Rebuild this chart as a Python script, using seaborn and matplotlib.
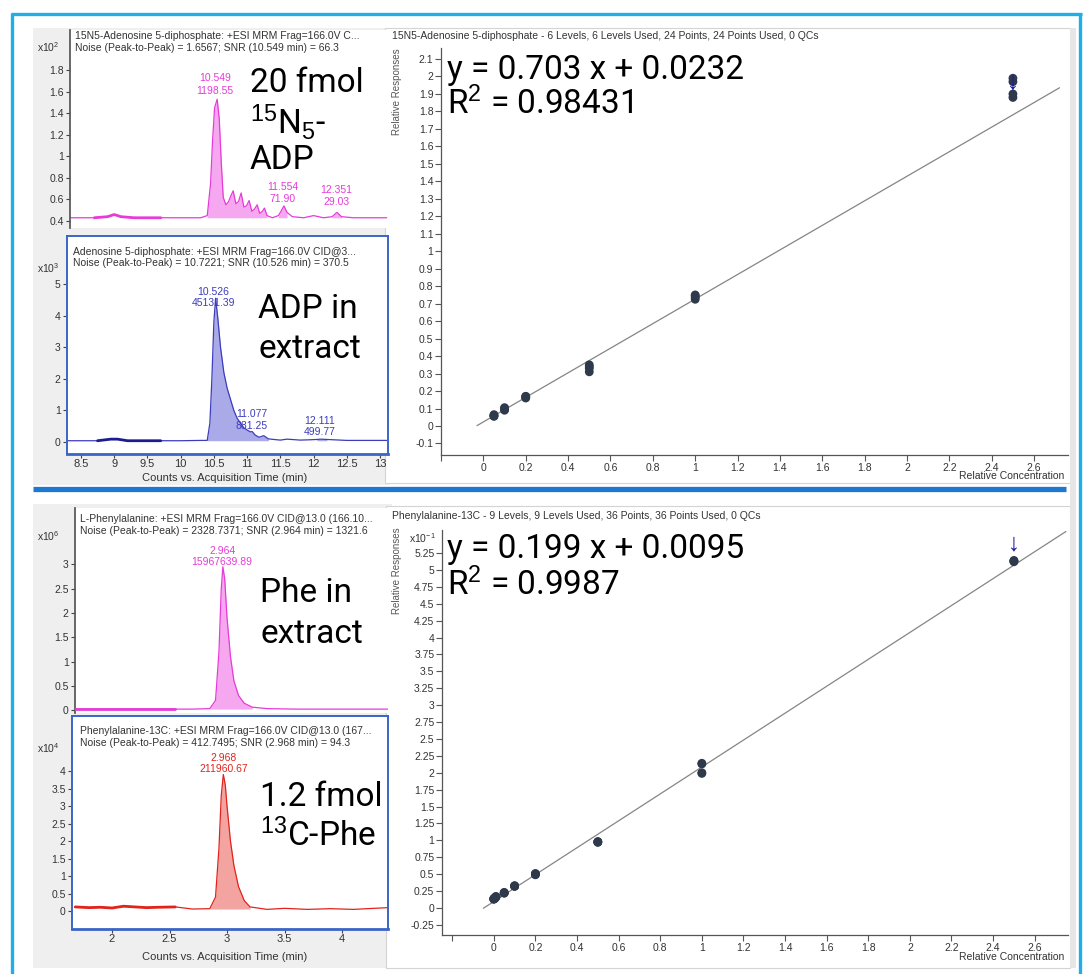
import numpy as np
import matplotlib
matplotlib.use("Agg")
import matplotlib.pyplot as plt
from matplotlib.patches import Rectangle
from matplotlib.lines import Line2D
from matplotlib.ticker import FuncFormatter
import seaborn as sns

# ---------------- data ----------------
# 15N5-ADP chromatogram (x10^2 counts)
adp15_t = [8.3, 8.7, 8.9, 9.0, 9.1, 9.3, 9.7, 10.0, 10.3, 10.40, 10.45, 10.48, 10.51, 10.549,
           10.58, 10.61, 10.64, 10.68, 10.72, 10.76, 10.79, 10.83, 10.87, 10.91, 10.95, 10.99,
           11.03, 11.07, 11.11, 11.15, 11.19, 11.23, 11.26, 11.30, 11.38, 11.47, 11.51, 11.554,
           11.60, 11.68, 11.85, 12.0, 12.15, 12.28, 12.351, 12.42, 12.6, 12.8, 13.1]
adp15_y = [0.43, 0.43, 0.44, 0.46, 0.44, 0.43, 0.43, 0.43, 0.43, 0.45, 0.75, 1.15, 1.45, 1.53,
           1.35, 0.95, 0.62, 0.55, 0.58, 0.64, 0.68, 0.56, 0.58, 0.66, 0.53, 0.54,
           0.59, 0.49, 0.51, 0.55, 0.47, 0.49, 0.52, 0.45, 0.43, 0.45, 0.49, 0.54,
           0.48, 0.44, 0.43, 0.45, 0.43, 0.44, 0.48, 0.44, 0.43, 0.43, 0.43]
# ADP in extract chromatogram (x10^3 counts)
adp_t = [8.3, 8.75, 8.95, 9.05, 9.2, 9.7, 10.0, 10.3, 10.40, 10.44, 10.47, 10.50, 10.526, 10.56,
         10.60, 10.65, 10.70, 10.75, 10.80, 10.85, 10.90, 10.95, 11.0, 11.05, 11.077, 11.12,
         11.18, 11.25, 11.32, 11.40, 11.5, 11.6, 11.8, 11.95, 12.05, 12.111, 12.2, 12.3, 12.5,
         12.8, 13.1]
adp_y = [0.04, 0.04, 0.09, 0.09, 0.04, 0.04, 0.04, 0.05, 0.05, 0.6, 2.0, 3.8, 4.55, 3.9,
         3.0, 2.2, 1.7, 1.35, 1.0, 0.75, 0.6, 0.45, 0.38, 0.32, 0.33, 0.22,
         0.15, 0.20, 0.10, 0.08, 0.06, 0.09, 0.06, 0.07, 0.08, 0.09, 0.08, 0.07, 0.05,
         0.05, 0.05]
# Phe in extract chromatogram (x10^6 counts)
phe_t = [1.68, 2.0, 2.3, 2.55, 2.7, 2.85, 2.90, 2.93, 2.95, 2.964, 2.98, 3.00, 3.03, 3.06,
         3.10, 3.15, 3.22, 3.35, 3.6, 3.9, 4.2, 4.4]
phe_y = [0.02, 0.02, 0.02, 0.02, 0.02, 0.03, 0.2, 1.2, 2.5, 2.95, 2.7, 1.9, 1.1, 0.6,
         0.3, 0.14, 0.06, 0.03, 0.02, 0.02, 0.02, 0.02]
# 13C-Phe chromatogram (x10^4 counts)
phe13_t = [1.68, 1.8, 1.9, 2.0, 2.1, 2.2, 2.3, 2.4, 2.55, 2.7, 2.85, 2.90, 2.93, 2.95, 2.968,
           2.985, 3.00, 3.03, 3.06, 3.10, 3.15, 3.2, 3.35, 3.5, 3.7, 3.9, 4.1, 4.4]
phe13_y = [0.12, 0.10, 0.11, 0.09, 0.14, 0.12, 0.10, 0.11, 0.12, 0.06, 0.07, 0.4, 1.8, 3.3, 3.9,
           3.6, 3.0, 2.0, 1.3, 0.7, 0.3, 0.12, 0.05, 0.08, 0.05, 0.07, 0.05, 0.1]

# calibration: 15N5-ADP
adp_levels = [0.05, 0.1, 0.2, 0.5, 1.0, 2.5]
adp_resp = [[0.055, 0.060, 0.065, 0.058],
            [0.090, 0.095, 0.100, 0.105],
            [0.160, 0.165, 0.170, 0.168],
            [0.310, 0.330, 0.340, 0.350],
            [0.725, 0.735, 0.745, 0.750],
            [1.880, 1.900, 1.970, 1.990]]
adp_slope, adp_icpt, adp_r2 = 0.703, 0.0232, 0.98431
adp_flag = (2.5, 1.965)
# calibration: Phenylalanine-13C (responses x10^-1)
phe_levels = [0.0, 0.005, 0.01, 0.05, 0.1, 0.2, 0.5, 1.0, 2.5]
phe_resp = [[0.130, 0.130, 0.135, 0.140],
            [0.140, 0.145, 0.150, 0.150],
            [0.160, 0.160, 0.165, 0.170],
            [0.220, 0.220, 0.225, 0.230],
            [0.320, 0.320, 0.325, 0.330],
            [0.490, 0.500, 0.500, 0.510],
            [0.970, 0.975, 0.980, 0.980],
            [1.990, 2.000, 2.130, 2.140],
            [5.120, 5.130, 5.130, 5.140]]
phe_slope, phe_icpt, phe_r2 = 0.199, 0.0095, 0.9987
phe_flag = (2.5, 5.38)

# ---------------- style ----------------
W, H = 1083, 974
sns.set_theme(style="ticks")
plt.rcParams["font.family"] = ["Liberation Sans", "DejaVu Sans"]
plt.rcParams["mathtext.fontset"] = "custom"
plt.rcParams["mathtext.rm"] = "Liberation Sans"
plt.rcParams["mathtext.it"] = "Liberation Sans:italic"
BIG = ["Roboto", "DejaVu Sans"]

MAG, MAG_F = "#e63bd8", "#f5a8ef"
BLU, BLU_F, BLU_B = "#3c3cbc", "#aaaae8", "#1c1c92"
RED, RED_F = "#e2231c", "#f3a4a0"
BOXB = "#3a64c6"
TXT = "#333333"

fig = plt.figure(figsize=(W / 100, H / 100), dpi=100)
fig.patch.set_facecolor("white")


def fx(x):
    return x / W


def fy(y):
    return 1 - y / H


def box(x0, y0, x1, y1):
    return [x0 / W, 1 - y1 / H, (x1 - x0) / W, (y1 - y0) / H]


def rect(x0, y0, x1, y1, fc, ec="none", lw=0.0, z=-5):
    fig.add_artist(Rectangle((x0 / W, 1 - y1 / H), (x1 - x0) / W, (y1 - y0) / H,
                             transform=fig.transFigure, facecolor=fc, edgecolor=ec,
                             linewidth=lw, zorder=z))


def hline(x0, x1, y, color, lw, z=10):
    fig.add_artist(Line2D([x0 / W, x1 / W], [fy(y), fy(y)], transform=fig.transFigure,
                          color=color, linewidth=lw, zorder=z, solid_capstyle="butt"))


def vline(x, y0, y1, color, lw, z=10):
    fig.add_artist(Line2D([fx(x), fx(x)], [fy(y0), fy(y1)], transform=fig.transFigure,
                          color=color, linewidth=lw, zorder=z, solid_capstyle="butt"))


def ftext(x, y, s, size=7.5, color=TXT, ha="left", va="center", **kw):
    fig.text(fx(x), fy(y), s, fontsize=size, color=color, ha=ha, va=va, **kw)


fmt = FuncFormatter(lambda v, p: f"{round(v, 3):g}")

# backgrounds
rect(33, 28, 390, 485, "#efefef")
rect(33, 504, 392, 968, "#efefef")
rect(385, 28, 1070, 483, "white", "#d4d4d4", 0.8)
rect(386, 506, 1070, 968, "white", "#d4d4d4", 0.8)
rect(1070, 28, 1076, 968, "#e6e6e6")


def chrom(bx, t, y, color, fcol, fills, base, bold, bcol, xlim, ylim, yticks, xticks, selected):
    ax = fig.add_axes(box(*bx))
    ax.set_facecolor("white")
    t = np.asarray(t, float)
    y = np.asarray(y, float)
    for a, b in fills:
        m = (t >= a) & (t <= b)
        ax.fill_between(t[m], base, y[m], color=fcol, linewidth=0, zorder=1)
    sns.lineplot(x=t, y=y, ax=ax, color=color, linewidth=0.9, estimator=None, sort=False, zorder=2)
    m = (t >= bold[0]) & (t <= bold[1])
    sns.lineplot(x=t[m], y=y[m], ax=ax, color=bcol, linewidth=2.0, estimator=None, sort=False, zorder=3)
    ax.set_xlim(*xlim)
    ax.set_ylim(*ylim)
    ax.set_yticks(yticks)
    ax.yaxis.set_major_formatter(fmt)
    ax.set_xlabel("")
    ax.set_ylabel("")
    ax.tick_params(axis="y", direction="out", length=3, width=0.8, labelsize=7.5,
                   pad=1.5, labelcolor=TXT, color="#444444")
    if selected:
        for s in ax.spines.values():
            s.set_color(BOXB)
            s.set_linewidth(1.4)
        ax.spines["bottom"].set_linewidth(2.0)
        ax.set_xticks(xticks)
        ax.xaxis.set_major_formatter(fmt)
        ax.tick_params(axis="x", direction="out", length=3, width=0.8, labelsize=8,
                       pad=0.8, labelcolor=TXT, color="#444444")
    else:
        for k in ("top", "right", "bottom"):
            ax.spines[k].set_visible(False)
        ax.spines["left"].set_color("#555555")
        ax.set_xticks([])
    return ax


# ---- top-left chromatograms
chrom((70, 30, 388, 228), adp15_t, adp15_y, MAG, MAG_F,
      [(10.40, 11.30), (11.47, 11.65), (12.28, 12.42)], 0.43, (8.7, 9.7), MAG,
      (8.334, 13.12), (0.335, 2.172), np.arange(0.4, 1.81, 0.2), None, False)
chrom((67, 236, 388, 454), adp_t, adp_y, BLU, BLU_F,
      [(10.40, 11.32), (12.0, 12.2)], 0.04, (8.75, 9.7), BLU_B,
      (8.29, 13.12), (-0.38, 6.52), np.arange(0, 5.1, 1), np.arange(8.5, 13.01, 0.5), True)
# ---- bottom-left chromatograms
chrom((75, 508, 388, 713), phe_t, phe_y, MAG, MAG_F,
      [(2.85, 3.22)], 0.02, (1.68, 2.55), MAG,
      (1.678, 4.4), (-0.06, 4.16), np.arange(0, 3.01, 0.5), None, False)
chrom((72, 716, 388, 929), phe13_t, phe13_y, RED, RED_F,
      [(2.85, 3.2)], 0.06, (1.68, 2.55), RED,
      (1.652, 4.4), (-0.51, 5.57), np.arange(0, 4.01, 0.5), np.arange(2, 4.01, 0.5), True)

# chromatogram header texts
ftext(75, 36, "15N5-Adenosine 5-diphosphate: +ESI MRM Frag=166.0V C...")
ftext(75, 48, "Noise (Peak-to-Peak) = 1.6567; SNR (10.549 min) = 66.3")
ftext(37, 47, r"x10$^{2}$")
ftext(73, 252, "Adenosine 5-diphosphate: +ESI MRM Frag=166.0V CID@3...")
ftext(73, 263, "Noise (Peak-to-Peak) = 10.7221; SNR (10.526 min) = 370.5")
ftext(37, 268, r"x10$^{3}$")
ftext(80, 519, "L-Phenylalanine: +ESI MRM Frag=166.0V CID@13.0 (166.10...")
ftext(80, 531, "Noise (Peak-to-Peak) = 2328.7371; SNR (2.964 min) = 1321.6")
ftext(37, 536, r"x10$^{6}$")
ftext(80, 731, "Phenylalanine-13C: +ESI MRM Frag=166.0V CID@13.0 (167...")
ftext(80, 743, "Noise (Peak-to-Peak) = 412.7495; SNR (2.968 min) = 94.3")
ftext(37, 748, r"x10$^{4}$")
ftext(225, 478, "Counts vs. Acquisition Time (min)", size=8, ha="center")
ftext(225, 957, "Counts vs. Acquisition Time (min)", size=8, ha="center")

# peak labels
for x, y, s, c in [(215, 78, "10.549", MAG), (215, 91, "1198.55", MAG),
                   (283, 187, "11.554", MAG), (283, 199, "71.90", MAG),
                   (336, 190, "12.351", MAG), (336, 202, "29.03", MAG),
                   (213, 292, "10.526", BLU), (213, 303, "45131.39", BLU),
                   (252, 414, "11.077", BLU), (252, 426, "881.25", BLU),
                   (320, 421, "12.111", BLU), (320, 432, "499.77", BLU),
                   (222, 551, "2.964", MAG), (222, 562, "15967639.89", MAG),
                   (224, 758, "2.968", RED), (224, 769, "211960.67", RED)]:
    ftext(x, y, s, size=7.5, color=c, ha="center")

# big annotations
for x, y, s in [(250, 83, "20 fmol"), (250, 122, r"$^{15}$N$_{5}$-"), (250, 160, "ADP"),
                (258, 309, "ADP in"), (258, 349, "extract"),
                (260, 593, "Phe in"), (260, 634, "extract"),
                (260, 797, "1.2 fmol"), (260, 836, r"$^{13}$C-Phe"),
                (447, 70, "y = 0.703 x + 0.0232"), (447, 104, "R$^{2}$ = 0.98431"),
                (447, 549, "y = 0.199 x + 0.0095"), (447, 585, "R$^{2}$ = 0.9987")]:
    fig.text(fx(x), fy(y), s, fontsize=24, color="black", ha="left", va="center",
             family=BIG, zorder=20)


# ---- calibration plots
def calib(bx, levels, resp, slope, icpt, scale, flag, xlim, ylim, yticks, lx):
    ax = fig.add_axes(box(*bx))
    ax.set_facecolor("none")
    xs, ys = [], []
    for lv, rr in zip(levels, resp):
        for r in rr:
            xs.append(lv)
            ys.append(r)
    line_x = np.array(lx)
    sns.lineplot(x=line_x, y=(slope * line_x + icpt) * scale, ax=ax, color="#858585",
                 linewidth=0.9, zorder=1)
    sns.scatterplot(x=xs, y=ys, ax=ax, color="#2e3a4b", s=40, edgecolor="none", zorder=3)
    sns.scatterplot(x=[flag[0]], y=[flag[1]], ax=ax, color="#1a1aa0", marker=r"$\downarrow$",
                    s=110, edgecolor="none", zorder=4)
    ax.set_xlim(*xlim)
    ax.set_ylim(*ylim)
    ax.set_yticks(yticks)
    ax.yaxis.set_major_formatter(fmt)
    xt = np.arange(-0.2, 2.61, 0.2)
    ax.set_xticks(xt)
    ax.set_xticklabels(["" if i == 0 else f"{round(v, 2):g}" for i, v in enumerate(xt)])
    for k in ("top", "right"):
        ax.spines[k].set_visible(False)
    for k in ("left", "bottom"):
        ax.spines[k].set_color("#555555")
        ax.spines[k].set_linewidth(0.9)
    ax.tick_params(direction="out", length=4, width=0.8, labelsize=7.5, pad=1.5,
                   labelcolor=TXT, color="#555555")
    ax.set_xlabel("")
    ax.set_ylabel("")
    return ax


calib((441, 48, 1068, 455), adp_levels, adp_resp, adp_slope, adp_icpt, 1.0, adp_flag,
      (-0.198, 2.76), (-0.166, 2.163), np.arange(-0.1, 2.11, 0.1), [-0.03, 2.72])
calib((442, 530, 1068, 935), phe_levels, phe_resp, phe_slope, phe_icpt, 10.0, phe_flag,
      (-0.249, 2.76), (-0.40, 5.59), np.arange(-0.25, 5.26, 0.25), [-0.05, 2.75])

ftext(392, 36, "15N5-Adenosine 5-diphosphate - 6 Levels, 6 Levels Used, 24 Points, 24 Points Used, 0 QCs")
ftext(392, 516, "Phenylalanine-13C - 9 Levels, 9 Levels Used, 36 Points, 36 Points Used, 0 QCs")
ftext(397, 48, "Relative Responses", size=7, color="#555555", ha="center", va="top", rotation=90)
ftext(397, 527, "Relative Responses", size=7, color="#555555", ha="center", va="top", rotation=90)
ftext(409, 538, r"x10$^{-1}$", size=7.5)
ftext(1064, 476, "Relative Concentration", size=7.5, ha="right")
ftext(1064, 957, "Relative Concentration", size=7.5, ha="right")

# frame and separator
hline(11, 1082, 14, "#1faee6", 2.4)
vline(12, 13, 974, "#1faee6", 2.4)
vline(1080, 13, 974, "#1faee6", 2.4)
hline(33, 1066, 489, "#1f78cf", 3.8)

fig.savefig("out.png", dpi=100, facecolor="white")
